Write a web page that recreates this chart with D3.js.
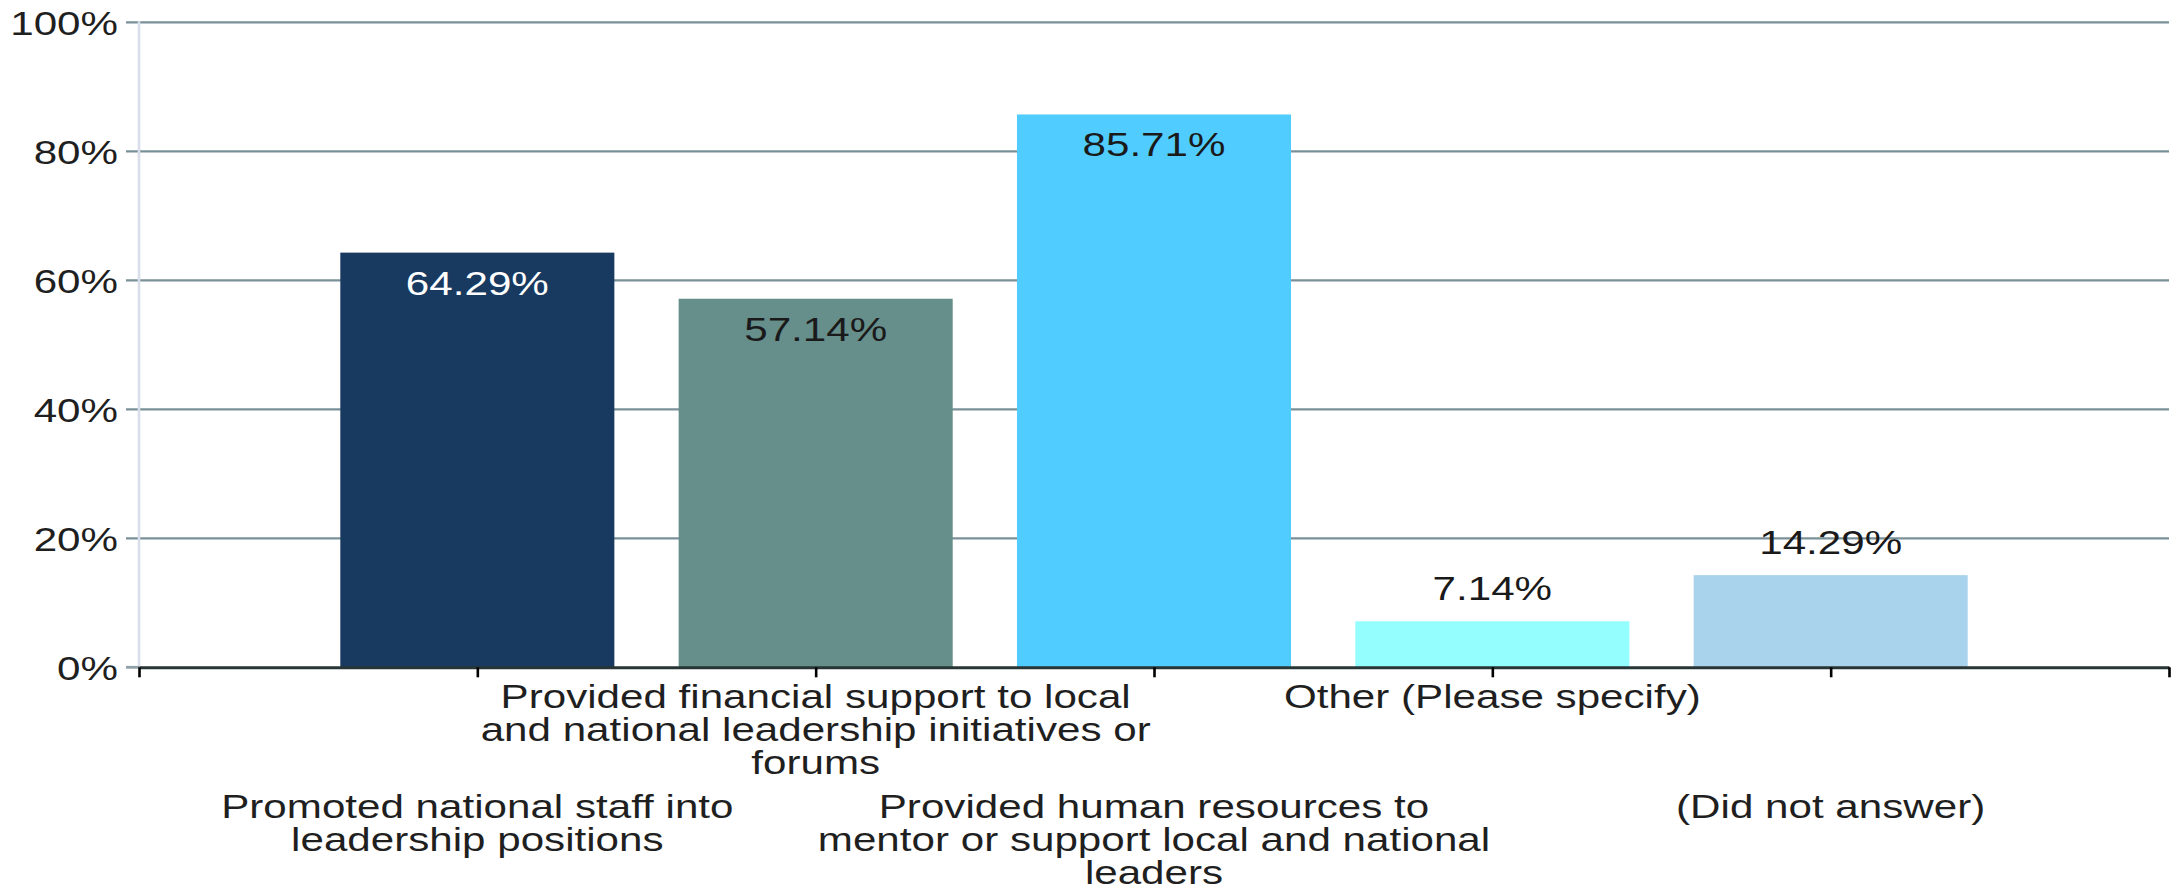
<!DOCTYPE html>
<html>
<head>
<meta charset="utf-8">
<script src="https://cdn.jsdelivr.net/npm/d3@7"></script>
<style>
  html, body { margin: 0; padding: 0; background: #ffffff; }
  svg { display: block; }
  text { font-family: "Liberation Sans", Arial, sans-serif; }
</style>
</head>
<body>
<svg id="chart" width="2180" height="889"></svg>
<script>
// ---- data ----
const categories = [
  "Promoted national staff into leadership positions",
  "Provided financial support to local and national leadership initiatives or forums",
  "Provided human resources to mentor or support local and national leaders",
  "Other (Please specify)",
  "(Did not answer)"
];
const categoryLines = [
  ["Promoted national staff into", "leadership positions"],
  ["Provided financial support to local", "and national leadership initiatives or", "forums"],
  ["Provided human resources to", "mentor or support local and national", "leaders"],
  ["Other (Please specify)"],
  ["(Did not answer)"]
];
const values = [64.29, 57.14, 85.71, 7.14, 14.29];
const valueLabels = ["64.29%", "57.14%", "85.71%", "7.14%", "14.29%"];
const yTicks = [0, 20, 40, 60, 80, 100];
const yTickLabels = ["0%", "20%", "40%", "60%", "80%", "100%"];

// ---- style ----
const barColors = ["#183a61", "#668e8a", "#50cdfe", "#94fefe", "#a9d3ec"];
const valueTextColors = ["#ffffff", "#1a1a1a", "#1a1a1a", "#1a1a1a", "#1a1a1a"];
const FS = 34, SX = 1.24;

(function () {
const svg = d3.select("#chart");
const pLeft = 139, pRight = 2169, pTop = 22.3, pBottom = 667.3;

const y = d3.scaleLinear().domain([0, 100]).range([pBottom, pTop]);
const x = d3.scaleLinear().domain([0, categories.length + 1]).range([pLeft, pRight]);
const step = x(1) - x(0);
const barW = step * 0.81;

// gridlines
svg.append("g").selectAll("line").data(yTicks.filter(d => d > 0)).join("line")
  .attr("x1", 126).attr("x2", pRight)
  .attr("y1", d => y(d)).attr("y2", d => y(d))
  .attr("stroke", "#7a9099").attr("stroke-width", 2.2);

// y-axis line
svg.append("line")
  .attr("x1", pLeft).attr("x2", pLeft).attr("y1", pTop - 1).attr("y2", pBottom)
  .attr("stroke", "#d8deea").attr("stroke-width", 2.6);

// y tick labels
svg.append("g").selectAll("g").data(yTicks).join("g")
  .attr("transform", d => `translate(118,${y(d) + 12.5}) scale(${SX},1)`)
  .append("text")
  .attr("text-anchor", "end")
  .attr("font-size", FS)
  .attr("fill", "#1f1f1f")
  .text((d, i) => yTickLabels[i]);

// bars
svg.append("g").selectAll("rect").data(values).join("rect")
  .attr("x", (d, i) => x(i + 1) - barW / 2)
  .attr("width", barW)
  .attr("y", d => y(d))
  .attr("height", d => y(0) - y(d))
  .attr("fill", (d, i) => barColors[i]);

// x axis
svg.append("line")
  .attr("x1", 126).attr("x2", pLeft).attr("y1", pBottom).attr("y2", pBottom)
  .attr("stroke", "#8fa0a8").attr("stroke-width", 2.8);
const xAxis = d3.axisBottom(x)
  .tickValues(d3.range(0, categories.length + 2))
  .tickSize(10).tickSizeOuter(0).tickFormat("");
const gx = svg.append("g").attr("transform", `translate(0,${pBottom})`).call(xAxis);
gx.select(".domain").attr("stroke", "#283535").attr("stroke-width", 3);
gx.selectAll(".tick line").attr("stroke", "#000").attr("stroke-width", 2.6);

// value labels
svg.append("g").selectAll("g").data(values).join("g")
  .attr("transform", (d, i) => {
    const inside = d > 30;
    const by = inside ? y(d) + 42 : y(d) - 21;
    return `translate(${x(i + 1)},${by}) scale(${SX},1)`;
  })
  .append("text")
  .attr("text-anchor", "middle")
  .attr("font-size", FS)
  .attr("fill", (d, i) => valueTextColors[i])
  .text((d, i) => valueLabels[i]);

// category labels (staggered)
const lineH = 32.8;
const labelG = svg.append("g").selectAll("g").data(categoryLines).join("g")
  .attr("transform", (d, i) => {
    const by = (i % 2 === 1) ? 708 : 818;
    return `translate(${x(i + 1)},${by}) scale(${SX},1)`;
  });
labelG.append("text")
  .attr("text-anchor", "middle")
  .attr("font-size", FS)
  .attr("fill", "#1f1f1f")
  .selectAll("tspan").data(d => d).join("tspan")
  .attr("x", 0)
  .attr("y", (d, j) => j * lineH)
  .text(d => d);
})();
</script>
</body>
</html>
